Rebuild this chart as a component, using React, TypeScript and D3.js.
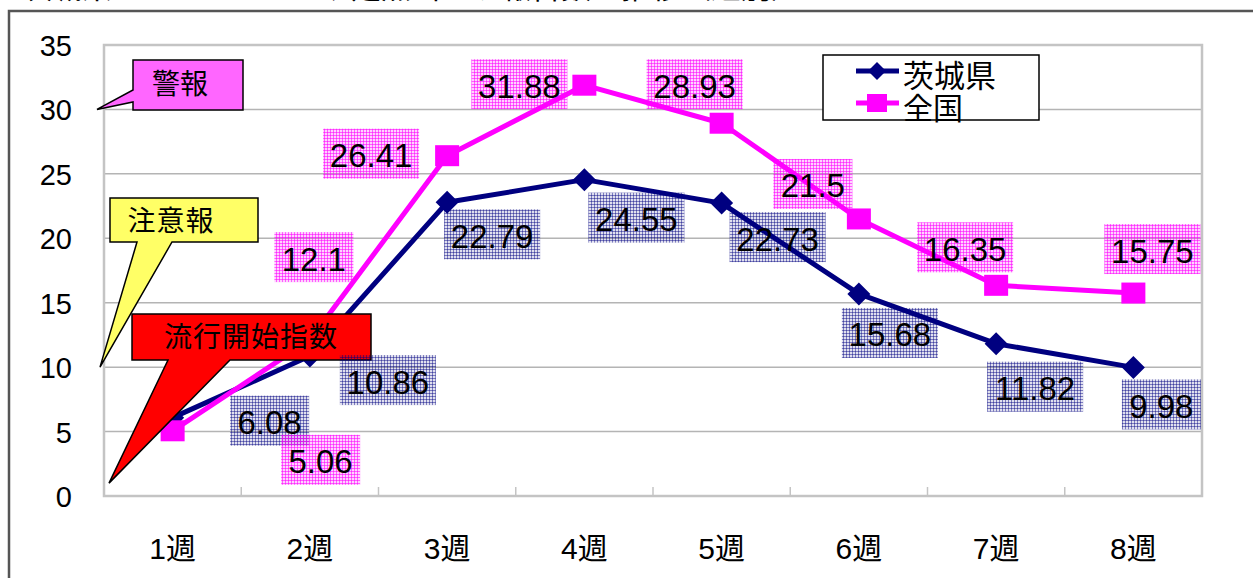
import { scaleBand, scaleLinear, line } from "d3";

const categories = ["1週", "2週", "3週", "4週", "5週", "6週", "7週", "8週"];
const ibaraki = [6.08, 10.86, 22.79, 24.55, 22.73, 15.68, 11.82, 9.98];
const national = [5.06, 12.1, 26.41, 31.88, 28.93, 21.5, 16.35, 15.75];
const yTicks = [0, 5, 10, 15, 20, 25, 30, 35];
const seriesNames = ["茨城県", "全国"];
// thresholds that the callouts point at
const thresholds = [
  { label: "警報", value: 30 },
  { label: "注意報", value: 10 },
  { label: "流行開始指数", value: 1 },
];

// hand-placed label offsets (dx, dy from the point), as in the original sheet
const ibarakiLabelOffset = [
  [97, 3], [78, 24], [45, 32], [52, 38], [56, 34], [31, 39], [39, 43], [28, 37],
];
const nationalLabelOffset = [
  [148, 29], [4, -83], [-76, -2], [-65, -1], [-27, -39], [-46, -35], [-31, -38], [19, -44],
];

const W = 1253;
const H = 578;
const FONT = "'Liberation Sans', 'Noto Sans CJK JP', sans-serif";
const NAVY = "#000080";
const MAGENTA = "#ff00ff";

const x = scaleBand<string>().domain(categories).range([104, 1202]);
const y = scaleLinear().domain([0, 35]).range([496, 45]);

function labelWidth(s: string) {
  return s.length >= 5 ? 96 : 79;
}

function Diamond({ cx, cy, r }: { cx: number; cy: number; r: number }) {
  return <path d={`M${cx},${cy - r}L${cx + r},${cy}L${cx},${cy + r}L${cx - r},${cy}Z`} fill={NAVY} />;
}

function Square({ cx, cy, w, h }: { cx: number; cy: number; w: number; h: number }) {
  return <rect x={cx - w / 2} y={cy - h / 2} width={w} height={h} fill={MAGENTA} />;
}

export default function App() {
  const cx = (i: number) => (x(categories[i]) ?? 0) + x.bandwidth() / 2;
  const path = line<number>()
    .x((_, i) => cx(i))
    .y((v) => y(v));

  const [warnY, cautionY, startY] = thresholds.map((t) => y(t.value));

  const labels = [
    { values: ibaraki, offs: ibarakiLabelOffset, fill: "url(#hatchBlue)" },
    { values: national, offs: nationalLabelOffset, fill: "url(#hatchPink)" },
  ];

  return (
    <svg
      width={W}
      height={H}
      viewBox={`0 0 ${W} ${H}`}
      style={{ position: "absolute", left: 0, top: 0, background: "#fff" }}
      fontFamily={FONT}
    >
      <defs>
        <pattern id="hatchPink" width={3} height={3} patternUnits="userSpaceOnUse">
          <rect width={3} height={3} fill={MAGENTA} fillOpacity={0.18} />
          <path d="M0,0.5H3M0.5,0V3" stroke={MAGENTA} strokeOpacity={0.55} strokeWidth={1} />
        </pattern>
        <pattern id="hatchBlue" width={3} height={3} patternUnits="userSpaceOnUse">
          <rect width={3} height={3} fill={NAVY} fillOpacity={0.12} />
          <path d="M0,0.5H3M0.5,0V3" stroke={NAVY} strokeOpacity={0.45} strokeWidth={1} />
        </pattern>
      </defs>

      {/* title, cut off at the top */}
      <text x={22} y={-2} fontSize={30} fill="#000">
        茨城県のインフルエンザ定点当たり報告数の推移（週別）
      </text>

      {/* outer frame */}
      <path d={`M9,${H + 5}V11H${W + 5}`} fill="none" stroke="#555" strokeWidth={2.5} />

      {/* grid */}
      {yTicks.slice(1, -1).map((t) => (
        <line key={t} x1={104} x2={1202} y1={y(t)} y2={y(t)} stroke="#b4b4b4" strokeWidth={1.5} />
      ))}
      <rect x={104} y={45} width={1098} height={451} fill="none" stroke="#c4c4c4" strokeWidth={2.5} />
      {categories.slice(1).map((c) => (
        <line key={c} x1={x(c)} x2={x(c)} y1={487} y2={496} stroke="#c4c4c4" strokeWidth={1.5} />
      ))}

      {/* y tick labels */}
      {yTicks.map((t) => (
        <text key={t} x={72} y={y(t) + 1} fontSize={29} textAnchor="end" dominantBaseline="central" fill="#000">
          {t}
        </text>
      ))}

      {/* x labels */}
      {categories.map((c, i) => (
        <text key={c} x={cx(i)} y={548} fontSize={30} textAnchor="middle" dominantBaseline="central" fill="#000">
          {c}
        </text>
      ))}

      {/* series */}
      <path d={path(ibaraki) ?? ""} fill="none" stroke={NAVY} strokeWidth={5} strokeLinejoin="round" />
      <path d={path(national) ?? ""} fill="none" stroke={MAGENTA} strokeWidth={5} strokeLinejoin="round" />
      {ibaraki.map((v, i) => (
        <Diamond key={i} cx={cx(i)} cy={y(v)} r={11.5} />
      ))}
      {national.map((v, i) => (
        <Square key={i} cx={cx(i)} cy={y(v)} w={24} h={21} />
      ))}

      {/* callouts */}
      <path
        d={`M133,60H243V110H133V102L97,${warnY}L133,90Z`}
        fill="#ff66ff"
        stroke="#000"
        strokeWidth={1.5}
      />
      <text x={180} y={84} fontSize={28} textAnchor="middle" dominantBaseline="central">
        {thresholds[0].label}
      </text>
      <path
        d={`M110,198H258V242H172L100,${cautionY}L137,242H110Z`}
        fill="#ffff66"
        stroke="#000"
        strokeWidth={1.5}
      />
      <text x={171} y={221} fontSize={28} letterSpacing={1} textAnchor="middle" dominantBaseline="central">
        {thresholds[1].label}
      </text>
      <path
        d={`M132,314H371V360H230L109,${startY}L168,360H132Z`}
        fill="#ff0000"
        stroke="#000"
        strokeWidth={1.5}
      />
      <text x={251} y={337} fontSize={28} letterSpacing={1} textAnchor="middle" dominantBaseline="central">
        {thresholds[2].label}
      </text>

      {/* data labels */}
      {labels.map((s, si) =>
        s.values.map((v, i) => {
          const lx = cx(i) + s.offs[i][0];
          const ly = y(v) + s.offs[i][1];
          const t = String(v);
          const w = labelWidth(t);
          return (
            <g key={`${si}-${i}`}>
              <rect x={lx - w / 2} y={ly - 25} width={w} height={50} fill={s.fill} />
              <text x={lx} y={ly + 2} fontSize={33} textAnchor="middle" dominantBaseline="central" fill="#000">
                {t}
              </text>
            </g>
          );
        })
      )}

      {/* legend */}
      <rect x={823} y={55} width={216} height={65} fill="#fff" stroke="#000" strokeWidth={1.5} />
      <line x1={856} x2={899} y1={71} y2={71} stroke={NAVY} strokeWidth={5} />
      <Diamond cx={877} cy={71} r={9} />
      <text x={903} y={76} fontSize={31} dominantBaseline="central">
        {seriesNames[0]}
      </text>
      <line x1={856} x2={899} y1={103} y2={103} stroke={MAGENTA} strokeWidth={5} />
      <Square cx={877} cy={103} w={20} h={18} />
      <text x={903} y={108} fontSize={30} dominantBaseline="central">
        {seriesNames[1]}
      </text>
    </svg>
  );
}
